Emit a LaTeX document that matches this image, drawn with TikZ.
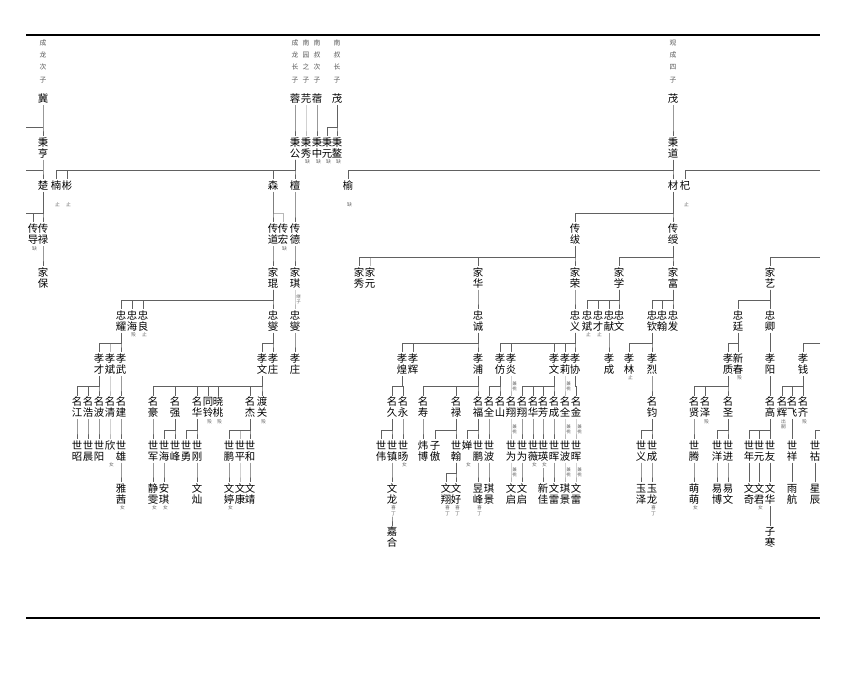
\documentclass[tikz,border=0pt]{standalone}
\usepackage{fontspec}
\setmainfont{Noto Sans CJK SC}
\usetikzlibrary{calc}
\newcommand\vtxtloop[1]{\ifx#1\relax\else\hbox to 1.05em{\hss\vrule height .88em depth .12em width 0pt #1\hss}\expandafter\vtxtloop\fi}
\newcommand\vtxt[1]{\vbox{\lineskiplimit=-100pt\lineskip=0pt\vtxtloop#1\relax}}
\tikzset{
  nm/.style={inner sep=0pt, anchor=north, font=\fontsize{10.4}{11}\selectfont},
  ann/.style={inner sep=0pt, anchor=north, text=black!60, font=\fontsize{4.8}{5.5}\selectfont},
  sann/.style={inner sep=0pt, text=black!60, font=\fontsize{4.5}{5.1}\selectfont},
  topnote/.style={inner sep=0pt, anchor=north, text=black!65, font=\fontsize{6.8}{12.3}\selectfont},
  ln/.style={draw=black!62, line width=0.55pt},
  lg/.style={draw=black!28, line width=0.55pt},
  rulebar/.style={line width=2.7pt}
}
\newcommand\Pn[4]{\node[nm] (#1) at (#2,{136.8+(#3-2)*43.3}) {\vtxt{#4}};}
\newcommand\Ann[2]{\node[ann] (#1-a) at ($(#1.north)+(1.5,22.2)$) {\vtxt{#2}};}
\newcommand\Cn[3][ln]{\draw[#1] ($(#2.south)+(0,1)$) |- ($(#3.north)+(0,-9.9)$) -- ($(#3.north)+(0,-1)$);}
\newcommand\Cna[3][ln]{\draw[#1] ($(#2-a.south -| #2.south)+(0,1)$) |- ($(#3.north)+(0,-9.9)$) -- ($(#3.north)+(0,-1)$);}
\newcommand\Sa[3]{\node[sann] (#1-#2-s) at ($(#1.south)!0.5!(#2.north)+(3.6,0)$) {\vtxt{#3}};}
\begin{document}
\begin{tikzpicture}[x=1pt,y=-1pt]
\useasboundingbox (0,0) rectangle (851,674);
\coordinate (rTL) at (26,35); \coordinate (rTR) at (820,35);
\coordinate (rBL) at (26,618); \coordinate (rBR) at (820,618);
\draw[rulebar] (rTL) -- (rTR);
\draw[rulebar] (rBL) -- (rBR);

% top notes
\node[topnote] (t1) at (43,39) {\vtxt{成龙次子}};
\node[topnote] (t2) at (295,39) {\vtxt{成龙长子}};
\node[topnote] (t3) at (306,39) {\vtxt{南园之子}};
\node[topnote] (t4) at (317,39) {\vtxt{南叔次子}};
\node[topnote] (t5) at (337,39) {\vtxt{南叔长子}};
\node[topnote] (t6) at (673,39) {\vtxt{观成四子}};

% generation 1
\Pn{ji}{43}{1}{冀}
\Pn{rong}{295}{1}{蓉}
\Pn{yuan}{306}{1}{芫}
\Pn{xu}{317}{1}{蓿}
\Pn{maoa}{337}{1}{茂}
\Pn{maob}{673}{1}{茂}

% generation 2
\Pn{bh}{43}{2}{秉亨}
\Pn{bg}{295}{2}{秉公}
\Pn{bx}{306}{2}{秉秀} \Ann{bx}{缺}
\Pn{bz}{317}{2}{秉中} \Ann{bz}{缺}
\Pn{by}{327}{2}{秉元} \Ann{by}{缺}
\Pn{ba}{337}{2}{秉鳌} \Ann{ba}{缺}
\Pn{bd}{673}{2}{秉道}
\Cn[lg]{yuan}{bx}
\Cn{ji}{bh} \Cn{rong}{bg} \Cn{xu}{bz} \Cn{maoa}{by} \Cn{maoa}{ba} \Cn{maob}{bd}
\coordinate (eA) at (26,126.9); \draw[ln] (eA) -- (eA -| ji.south);

% generation 3
\Pn{chu}{43}{3}{楚}
\Pn{nan}{56}{3}{楠} \Ann{nan}{止}
\Pn{bin}{67}{3}{彬} \Ann{bin}{止}
\Pn{sen}{273}{3}{森}
\Pn{tan}{295}{3}{檀}
\Pn{yu}{348}{3}{榆} \Ann{yu}{缺}
\Pn{cai}{673}{3}{材}
\Pn{qi}{685}{3}{杞} \Ann{qi}{止}
\Cn{bh}{chu} \Cn{bg}{nan} \Cn{bg}{bin} \Cn{bg}{sen} \Cn{bg}{tan} \Cn{bd}{yu} \Cn{bd}{cai}
\coordinate (eB) at (26,170.2); \draw[ln] (eB) -- (eB -| bh.south);
\coordinate (eC) at (820,170.2); \draw[ln] (eC) -| ($(qi.north)+(0,-1)$);

% generation 4
\Pn{cd}{33}{4}{传导} \Ann{cd}{缺}
\Pn{cl}{43}{4}{传禄}
\Pn{ct}{273}{4}{传道}
\Pn{ch}{283}{4}{传宏} \Ann{ch}{缺}
\Pn{cde}{295}{4}{传德}
\Pn{cf}{575}{4}{传绂}
\Pn{cs}{673}{4}{传绶}
\Cn[lg]{sen}{ch}
\Cn{chu}{cd} \Cn{chu}{cl} \Cn{sen}{ct} \Cn{tan}{cde} \Cn{cai}{cf} \Cn{cai}{cs}
\coordinate (eD) at (26,213.5); \draw[ln] (eD) -- (eD -| cd.south);

% generation 5
\Pn{jb}{43}{5}{家保}
\Pn{jk}{273}{5}{家琨}
\Pn{jq}{295}{5}{家琪}
\Pn{jx}{359}{5}{家秀}
\Pn{jy}{370}{5}{家元}
\Pn{jh}{478}{5}{家华}
\Pn{jr}{575}{5}{家荣}
\Pn{jxue}{619}{5}{家学}
\Pn{jf}{673}{5}{家富}
\Pn{jyi}{770}{5}{家艺}
\Cn[lg]{cf}{jy}
\Cn{cl}{jb} \Cn{ct}{jk} \Cn{cde}{jq} \Cn{cf}{jx} \Cn{cf}{jh} \Cn{cf}{jr} \Cn{cs}{jxue} \Cn{cs}{jf}
\coordinate (eE) at (820,256.8); \draw[ln] (eE) -| ($(jyi.north)+(0,-1)$);

% generation 6
\Pn{zy}{121}{6}{忠耀}
\Pn{zh}{132}{6}{忠海} \Ann{zh}{殁}
\Pn{zl}{143}{6}{忠良} \Ann{zl}{止}
\Pn{zxa}{273}{6}{忠燮}
\Pn{zxb}{295}{6}{忠燮}
\Pn{zc}{478}{6}{忠诚}
\Pn{zyi}{575}{6}{忠义}
\Pn{zb}{587}{6}{忠斌} \Ann{zb}{止}
\Pn{zca}{598}{6}{忠才} \Ann{zca}{止}
\Pn{zxi}{609}{6}{忠献}
\Pn{zw}{619}{6}{忠文}
\Pn{zq}{652}{6}{忠钦}
\Pn{zhn}{662}{6}{忠翰}
\Pn{zf}{673}{6}{忠发}
\Pn{zt}{738}{6}{忠廷}
\Pn{zqg}{770}{6}{忠卿}
\Cn[lg]{jq}{zxb} \Sa{jq}{zxb}{继子}
\Cn{jk}{zy} \Cn{jk}{zh} \Cn{jk}{zl} \Cn{jk}{zxa}
\Cn{jh}{zc} \Cn{jr}{zyi}
\Cn{jxue}{zb} \Cn{jxue}{zca} \Cn{jxue}{zxi} \Cn{jxue}{zw}
\Cn{jf}{zq} \Cn{jf}{zhn} \Cn{jf}{zf}
\Cn{jyi}{zt} \Cn{jyi}{zqg}

% generation 7
\Pn{xc}{99}{7}{孝才}
\Pn{xb}{110}{7}{孝斌}
\Pn{xw}{121}{7}{孝武}
\Pn{xwa}{262}{7}{孝文}
\Pn{xza}{273}{7}{孝庄}
\Pn{xzb}{295}{7}{孝庄}
\Pn{xhg}{402}{7}{孝煌}
\Pn{xhu}{413}{7}{孝辉}
\Pn{xp}{478}{7}{孝浦}
\Pn{xf}{500}{7}{孝仿}
\Pn{xy}{511}{7}{孝炎}
\Pn{xwb}{554}{7}{孝文}
\Pn{xli}{565}{7}{孝莉}
\Pn{xx}{575}{7}{孝协}
\Pn{xcg}{609}{7}{孝成}
\Pn{xlin}{629}{7}{孝林} \Ann{xlin}{止}
\Pn{xlie}{652}{7}{孝烈}
\Pn{xzh}{728}{7}{孝质}
\Pn{xcc}{738}{7}{新春} \Ann{xcc}{殁}
\Pn{xyg}{770}{7}{孝阳}
\Pn{xq}{803}{7}{孝钱}
\Cn[lg]{zy}{xb}
\Cn{zy}{xc} \Cn{zy}{xw}
\Cn{zxa}{xwa} \Cn{zxa}{xza} \Cn{zxb}{xzb}
\Cn{zc}{xhg} \Cn{zc}{xhu} \Cn{zc}{xp}
\Cn{zyi}{xf} \Cn{zyi}{xy} \Cn{zyi}{xwb} \Cn{zyi}{xli} \Cn{zyi}{xx}
\Cn{zxi}{xcg}
\Cn{zq}{xlin} \Cn{zq}{xlie}
\Cn{zt}{xzh} \Cn{zt}{xcc}
\Cn{zqg}{xyg}
\coordinate (eF) at (820,343.4); \draw[ln] (eF) -| ($(xq.north)+(0,-1)$);

% generation 8
\Pn{mj}{77}{8}{名江}
\Pn{mh}{88}{8}{名浩}
\Pn{mb}{99}{8}{名波}
\Pn{mq}{110}{8}{名清}
\Pn{mjn}{121}{8}{名建}
\Pn{mhao}{153}{8}{名豪}
\Pn{mqg}{175}{8}{名强}
\Pn{mhua}{197}{8}{名华}
\Pn{tl}{208}{8}{同铃} \Ann{tl}{殁}
\Pn{xt}{218}{8}{晓桃} \Ann{xt}{殁}
\Pn{mjie}{250}{8}{名杰}
\Pn{dg}{262}{8}{渡关} \Ann{dg}{殁}
\Pn{mjiu}{392}{8}{名久}
\Pn{myo}{403}{8}{名永}
\Pn{msh}{423}{8}{名寿}
\Pn{mlu}{456}{8}{名禄}
\Pn{mfu}{478}{8}{名福}
\Pn{mqa}{489}{8}{名全}
\Pn{msn}{500}{8}{名山}
\Pn{mxa}{511}{8}{名翔}
\Pn{mxb}{522}{8}{名翔}
\Pn{mhb}{533}{8}{名华}
\Pn{mfa}{543}{8}{名芳}
\Pn{mcg}{554}{8}{名成}
\Pn{mqb}{565}{8}{名全}
\Pn{mjin}{576}{8}{名金}
\Pn{mjun}{652}{8}{名钧}
\Pn{mxn}{694}{8}{名贤}
\Pn{mze}{705}{8}{名泽} \Ann{mze}{殁}
\Pn{msg}{728}{8}{名圣}
\Pn{mgao}{770}{8}{名高}
\Pn{mhui}{782}{8}{名辉} \Ann{mhui}{出嗣}
\Pn{mfei}{792}{8}{名飞}
\Pn{mqi}{803}{8}{名齐} \Ann{mqi}{殁}
\Cn[lg]{xb}{mq}
\Cn{xc}{mj} \Cn{xc}{mh} \Cn{xc}{mb} \Cn{xw}{mjn}
\Cn{xwa}{mhao} \Cn{xwa}{mqg} \Cn{xwa}{mhua} \Cn{xwa}{tl} \Cn{xwa}{xt} \Cn{xwa}{mjie} \Cn{xwa}{dg}
\Cn{xhg}{mjiu} \Cn{xhg}{myo}
\Cn{xp}{msh} \Cn{xp}{mlu} \Cn{xp}{mfu}
\Cn{xf}{mqa} \Cn{xf}{msn}
\Cn[lg]{xy}{mxa} \Sa{xy}{mxa}{兼祧}
\Cn{xwb}{mxb} \Cn{xwb}{mhb} \Cn{xwb}{mfa} \Cn{xwb}{mcg}
\Cn[lg]{xli}{mqb} \Sa{xli}{mqb}{兼祧}
\Cn{xx}{mjin}
\Cn{xlie}{mjun}
\Cn{xzh}{mxn} \Cn{xzh}{mze} \Cn{xzh}{msg}
\Cn{xyg}{mgao}
\Cn{xq}{mhui} \Cn{xq}{mfei} \Cn{xq}{mqi}

% generation 9
\Pn{sz}{77}{9}{世昭}
\Pn{sc}{88}{9}{世晨}
\Pn{sy}{99}{9}{世阳}
\Pn{xin}{110}{9}{欣} \Ann{xin}{女}
\Pn{sx}{121}{9}{世雄}
\Pn{sj}{153}{9}{世军}
\Pn{sh}{164}{9}{世海}
\Pn{sf}{175}{9}{世峰}
\Pn{syo}{186}{9}{世勇}
\Pn{sg}{197}{9}{世刚}
\Pn{spa}{229}{9}{世鹏}
\Pn{spg}{240}{9}{世平}
\Pn{she}{250}{9}{世和}
\Pn{sw}{381}{9}{世伟}
\Pn{szh}{392}{9}{世镇}
\Pn{syg}{403}{9}{世旸} \Ann{syg}{女}
\Pn{wb}{423}{9}{炜博}
\Pn{za}{435}{9}{子傲}
\Pn{shn}{456}{9}{世翰}
\Pn{chan}{467}{9}{婵} \Ann{chan}{女}
\Pn{spb}{478}{9}{世鹏}
\Pn{sba}{489}{9}{世波}
\Pn{swa}{511}{9}{世为}
\Pn{swb}{522}{9}{世为}
\Pn{swei}{533}{9}{世薇} \Ann{swei}{女}
\Pn{sying}{543}{9}{世瑛} \Ann{sying}{女}
\Pn{shua}{554}{9}{世晖}
\Pn{sbb}{565}{9}{世波}
\Pn{shub}{576}{9}{世晖}
\Pn{syi}{641}{9}{世义}
\Pn{scg}{652}{9}{世成}
\Pn{stg}{694}{9}{世腾}
\Pn{syy}{717}{9}{世洋}
\Pn{sjin}{728}{9}{世进}
\Pn{snian}{749}{9}{世年}
\Pn{syuan}{759}{9}{世元}
\Pn{syou}{770}{9}{世友}
\Pn{sxg}{792}{9}{世祥}
\Pn{shu}{815}{9}{世祜}
\Cn[lg]{mq}{xin} \Cn[lg]{mjie}{spg}
\Cn{mj}{sz} \Cn{mh}{sc} \Cn{mb}{sy} \Cn{mjn}{sx}
\Cn{mhao}{sj} \Cn{mqg}{sh} \Cn{mqg}{sf} \Cn{mhua}{syo} \Cn{mhua}{sg}
\Cn{mjie}{spa} \Cn{mjie}{she}
\Cn{mjiu}{sw} \Cn{mjiu}{szh} \Cn{myo}{syg}
\Cn{msh}{wb} \Cn{mlu}{za} \Cn{mlu}{shn} \Cn{mfu}{chan} \Cn{mfu}{spb} \Cn{mqa}{sba}
\Cn[lg]{mxa}{swa} \Sa{mxa}{swa}{兼祧}
\Cn{mxb}{swb} \Cn{mhb}{swei} \Cn{mfa}{sying} \Cn{mcg}{shua}
\Cn[lg]{mqb}{sbb} \Sa{mqb}{sbb}{兼祧}
\Cn[lg]{mjin}{shub} \Sa{mjin}{shub}{兼祧}
\Cn{mjun}{syi} \Cn{mjun}{scg}
\Cn{mxn}{stg} \Cn{msg}{syy} \Cn{msg}{sjin}
\Cn{mgao}{snian} \Cn{mgao}{syuan} \Cn{mgao}{syou}
\Cn{mfei}{sxg}
\coordinate (eG) at (820,430); \draw[ln] (eG) -| ($(shu.north)+(0,-1)$);

% generation 10
\Pn{yq}{121}{10}{雅茜} \Ann{yq}{女}
\Pn{jw}{153}{10}{静雯} \Ann{jw}{女}
\Pn{aq}{164}{10}{安琪} \Ann{aq}{女}
\Pn{wc}{197}{10}{文灿}
\Pn{wt}{229}{10}{文婷} \Ann{wt}{女}
\Pn{wk}{240}{10}{文康}
\Pn{wj}{250}{10}{文靖}
\Pn{wl}{392}{10}{文龙} \Ann{wl}{喜丁}
\Pn{wx}{446}{10}{文翔} \Ann{wx}{喜丁}
\Pn{wh}{456}{10}{文好} \Ann{wh}{喜丁}
\Pn{yf}{478}{10}{昱峰} \Ann{yf}{喜丁}
\Pn{qja}{489}{10}{琪景}
\Pn{wqa}{511}{10}{文启}
\Pn{wqb}{522}{10}{文启}
\Pn{xj}{543}{10}{新佳}
\Pn{wla}{554}{10}{文雷}
\Pn{qjb}{565}{10}{琪景}
\Pn{wlb}{576}{10}{文雷}
\Pn{yz}{641}{10}{玉泽}
\Pn{yl}{652}{10}{玉龙} \Ann{yl}{喜丁}
\Pn{mm}{694}{10}{萌萌} \Ann{mm}{女}
\Pn{yb}{717}{10}{易博}
\Pn{yw}{728}{10}{易文}
\Pn{wqi}{749}{10}{文奇}
\Pn{wjn}{759}{10}{文君} \Ann{wjn}{女}
\Pn{whu}{770}{10}{文华}
\Pn{yh}{792}{10}{雨航}
\Pn{xch}{815}{10}{星辰}
\Cn[lg]{spg}{wk}
\Cn{sx}{yq} \Cn{sj}{jw} \Cn{sh}{aq} \Cn{sg}{wc}
\Cn{spa}{wt} \Cn{she}{wj}
\Cn{szh}{wl}
\Cn{shn}{wx} \Cn{shn}{wh}
\Cn{spb}{yf} \Cn{sba}{qja}
\Cn[lg]{swa}{wqa} \Sa{swa}{wqa}{兼祧}
\Cn{swb}{wqb} \Cna{sying}{xj} \Cn{shua}{wla}
\Cn[lg]{sbb}{qjb} \Sa{sbb}{qjb}{兼祧}
\Cn[lg]{shub}{wlb} \Sa{shub}{wlb}{兼祧}
\Cn{syi}{yz} \Cn{scg}{yl}
\Cn{stg}{mm} \Cn{syy}{yb} \Cn{sjin}{yw}
\Cn{snian}{wqi} \Cn{syuan}{wjn} \Cn{syou}{whu}
\Cn{sxg}{yh} \Cn{shu}{xch}

% generation 11
\Pn{jhe}{392}{11}{嘉合}
\Pn{zhan}{770}{11}{子寒}
\Cna{wl}{jhe} \Cn{whu}{zhan}
\end{tikzpicture}
\end{document}
